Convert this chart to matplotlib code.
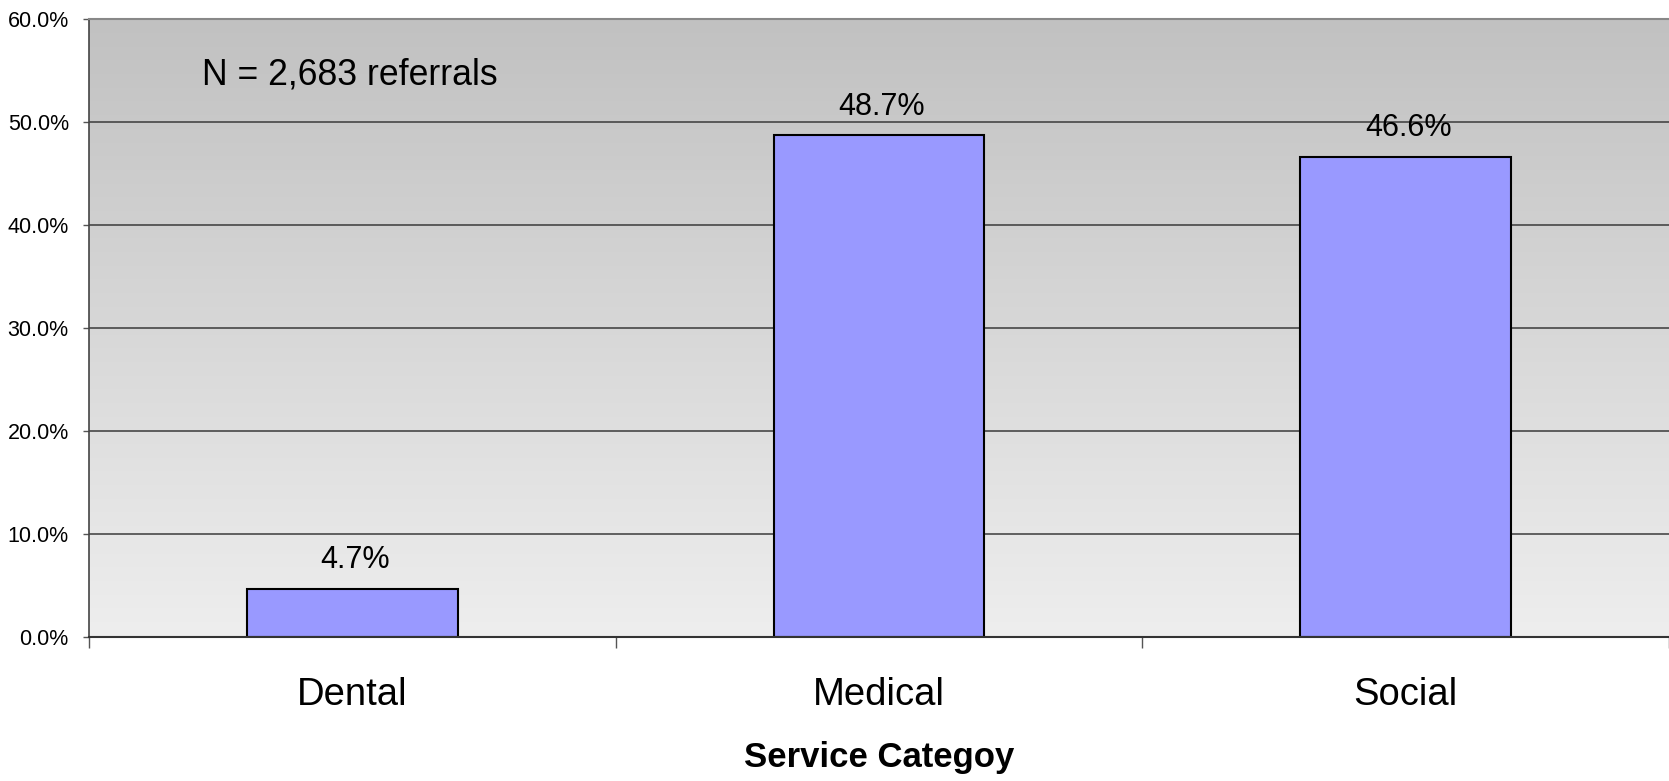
import numpy as np
import matplotlib
matplotlib.use("Agg")
import matplotlib.pyplot as plt
from matplotlib.colors import LinearSegmentedColormap

categories = ["Dental", "Medical", "Social"]
percents = [4.7, 48.7, 46.6]
y_ticks = [0, 10, 20, 30, 40, 50, 60]
note = "N = 2,683 referrals"
x_title = "Service Categoy"

plt.rcParams['font.family'] = ['Liberation Sans', 'DejaVu Sans']

fig = plt.figure(figsize=(16.69, 7.81), dpi=100)
ax = fig.add_axes([0.0533, 0.1844, 0.9467, 0.7913])

x = np.arange(len(categories))
ax.set_xlim(-0.5, len(categories) - 0.5)
ax.set_ylim(0, 60)

# gradient background, dark at top, light at bottom
grad = LinearSegmentedColormap.from_list("bg", ["#eeeeee", "#c1c1c1"])
ax.imshow(np.linspace(0, 1, 256).reshape(-1, 1), cmap=grad, aspect="auto",
          extent=[-0.5, len(categories) - 0.5, 0, 60], origin="lower", zorder=0)

for yv in y_ticks[1:-1]:
    ax.axhline(yv, color="#3a3a3a", lw=1.1, zorder=1)

ax.bar(x, percents, width=0.4, color="#9999ff", edgecolor="black", lw=1.5, zorder=2)
for xi, v in zip(x, percents):
    ax.text(xi + 0.005, v + 2.0, f"{v:.1f}%", ha="center", va="baseline", fontsize=22)

ax.text(-0.286, 53.6, note, ha="left", va="baseline", fontsize=25.7)

ax.set_yticks(y_ticks)
ax.set_yticklabels([f"{v:.1f}%" for v in y_ticks], fontsize=15.5)
ax.set_xticks([-0.5, 0.5, 1.5, 2.5])
ax.set_xticklabels([])
ax.set_xticks(x, minor=True)
ax.set_xticklabels(categories, minor=True, fontsize=27.5)
ax.tick_params(axis="x", which="major", direction="out", length=8, width=1, color="#555555")
ax.tick_params(axis="x", which="minor", length=0, pad=29)
ax.tick_params(axis="y", direction="out", length=4.5, width=1, color="#555555", pad=10)

ax.set_xlabel(x_title, fontsize=25, fontweight="bold", labelpad=20)

ax.spines["top"].set_color("#888888")
ax.spines["top"].set_linewidth(1.5)
ax.spines["right"].set_visible(False)
ax.spines["left"].set_color("#444444")
ax.spines["left"].set_linewidth(1.2)
ax.spines["bottom"].set_color("#333333")
ax.spines["bottom"].set_linewidth(1.5)

plt.savefig("out.png", dpi=100)
